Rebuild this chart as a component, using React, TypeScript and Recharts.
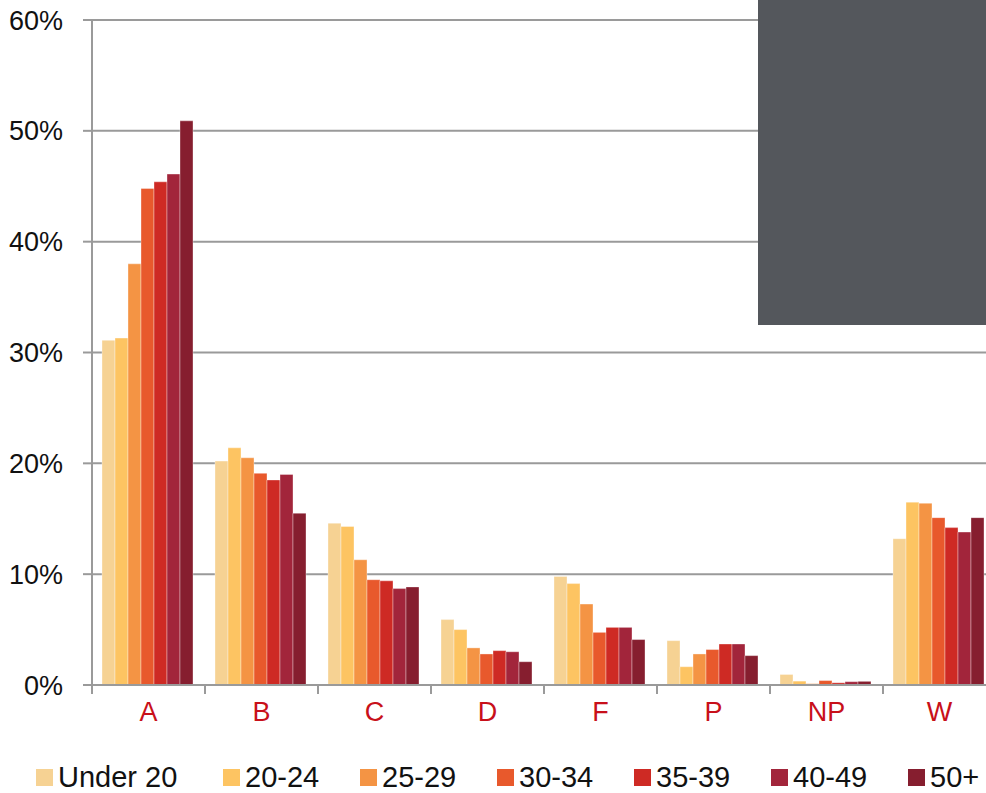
import { BarChart, Bar, XAxis, YAxis, CartesianGrid } from "recharts"

const grades = ["A", "B", "C", "D", "F", "P", "NP", "W"]
const ageGroups = ["Under 20", "20-24", "25-29", "30-34", "35-39", "40-49", "50+"]
const groupColors = ["#F6D293", "#FDC462", "#F49444", "#E8592C", "#CE2A24", "#A2253B", "#861E2F"]

const under20 = [31.1, 20.2, 14.6, 5.9, 9.8, 4.0, 0.95, 13.2]
const age20to24 = [31.3, 21.4, 14.3, 5.0, 9.15, 1.65, 0.35, 16.5]
const age25to29 = [38.0, 20.5, 11.3, 3.35, 7.3, 2.8, 0.12, 16.4]
const age30to34 = [44.8, 19.1, 9.5, 2.8, 4.75, 3.2, 0.4, 15.1]
const age35to39 = [45.4, 18.5, 9.4, 3.1, 5.2, 3.7, 0.2, 14.2]
const age40to49 = [46.1, 19.0, 8.7, 3.0, 5.2, 3.7, 0.3, 13.8]
const age50plus = [50.9, 15.5, 8.85, 2.1, 4.1, 2.65, 0.33, 15.1]

const yTicks = [0, 10, 20, 30, 40, 50, 60]

const seriesValues = [under20, age20to24, age25to29, age30to34, age35to39, age40to49, age50plus]

const chartData = grades.map((grade, i) => {
  const row: Record<string, string | number> = { grade }
  ageGroups.forEach((g, j) => {
    row[g] = seriesValues[j][i]
  })
  return row
})

const FONT = "'Liberation Sans', Arial, sans-serif"
const GRID = "#9a9a9a"

function GradeTick(props: any) {
  const { x, y, payload } = props
  const half = payload && payload.offset ? payload.offset : 56.5
  return (
    <g>
      <line x1={x - half} x2={x - half} y1={y - 17} y2={y - 8} stroke={GRID} strokeWidth={2} />
      <text x={x} y={y} dy="0.71em" textAnchor="middle" fill="#C8101A" fontSize={27} fontFamily={FONT}>
        {payload.value}
      </text>
    </g>
  )
}

export default function App() {
  return (
    <div style={{ position: "absolute", left: 0, top: 0, width: 986, height: 793, overflow: "hidden", background: "#fff" }}>
      <BarChart
        width={996}
        height={793}
        data={chartData}
        margin={{ top: 20, right: 0, left: 0, bottom: 58 }}
        barCategoryGap={10}
        barGap={0}
      >
        <CartesianGrid vertical={false} stroke={GRID} strokeWidth={2} />
        <XAxis
          dataKey="grade"
          height={50}
          stroke={GRID}
          strokeWidth={2}
          tickLine={false}
          tickSize={8}
          tickMargin={9}
          tick={<GradeTick />}
          interval={0}
        />
        <YAxis
          width={92}
          domain={[0, 60]}
          ticks={yTicks}
          tickFormatter={(v) => `${v}%`}
          stroke={GRID}
          strokeWidth={2}
          tickSize={9}
          tickMargin={20}
          tick={{ fill: "#111", fontSize: 27, fontFamily: FONT }}
        />
        {ageGroups.map((g, j) => (
          <Bar
            key={g}
            dataKey={g}
            fill={groupColors[j]}
            stroke="rgba(255,255,255,0.35)"
            strokeWidth={1}
            isAnimationActive={false}
          />
        ))}
      </BarChart>

      <div style={{ position: "absolute", left: 758, top: 0, width: 228, height: 325, background: "#54575C" }} />

      <div style={{ position: "absolute", left: 36, top: 761, display: "flex", alignItems: "center", fontFamily: FONT, fontSize: 29, color: "#111" }}>
        {ageGroups.map((g, j) => (
          <div key={g} style={{ display: "flex", alignItems: "center", width: j === 0 ? 187 : 137 }}>
            <span style={{ display: "inline-block", width: 17, height: 17, background: groupColors[j], marginRight: 5 }} />
            <span>{g}</span>
          </div>
        ))}
      </div>
    </div>
  )
}
